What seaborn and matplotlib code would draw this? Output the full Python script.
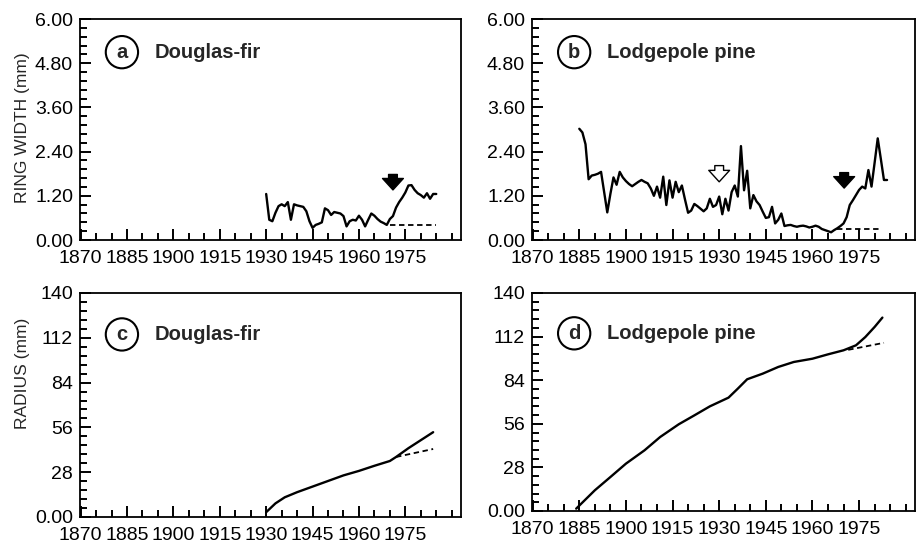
import matplotlib
matplotlib.use("Agg")
import matplotlib.pyplot as plt
from matplotlib.ticker import MultipleLocator, FixedLocator, FixedFormatter
import seaborn as sns

# ---- data ----
# (a) Douglas-fir ring width (mm), 1930-1985
df_years = list(range(1930, 1986))
df_width = [1.25, 0.55, 0.51, 0.74, 0.92, 0.97, 0.92, 1.03, 0.55, 0.97,
            0.94, 0.92, 0.90, 0.78, 0.51, 0.33, 0.41, 0.44, 0.48, 0.86,
            0.81, 0.68, 0.76, 0.74, 0.72, 0.65, 0.37, 0.51, 0.55, 0.53,
            0.66, 0.55, 0.37, 0.55, 0.72, 0.66, 0.57, 0.50, 0.46, 0.41,
            0.57, 0.65, 0.88, 1.03, 1.15, 1.29, 1.48, 1.49, 1.36, 1.27,
            1.22, 1.15, 1.27, 1.12, 1.25, 1.25]
df_base_years = [1970, 1985]
df_base_width = [0.40, 0.40]

# (b) Lodgepole pine ring width (mm), 1885-1984
lp_years = list(range(1885, 1985))
lp_width = [3.02, 2.92, 2.60, 1.65, 1.75, 1.77, 1.80, 1.85, 1.30, 0.75,
            1.25, 1.70, 1.50, 1.85, 1.70, 1.60, 1.52, 1.46, 1.52, 1.58,
            1.63, 1.58, 1.54, 1.40, 1.20, 1.45, 1.15, 1.72, 0.95, 1.62,
            1.15, 1.58, 1.30, 1.48, 1.10, 0.74, 0.80, 0.98, 0.92, 0.85,
            0.78, 0.86, 1.12, 0.90, 0.95, 1.18, 0.70, 1.12, 0.80, 1.30,
            1.48, 1.18, 2.55, 1.35, 1.88, 0.86, 1.22, 1.05, 0.95, 0.77,
            0.60, 0.62, 0.90, 0.45, 0.55, 0.72, 0.38, 0.40, 0.41, 0.38,
            0.36, 0.38, 0.39, 0.37, 0.34, 0.36, 0.39, 0.36, 0.30, 0.27,
            0.24, 0.21, 0.27, 0.32, 0.38, 0.45, 0.62, 0.95, 1.08, 1.22,
            1.36, 1.45, 1.40, 1.90, 1.45, 2.10, 2.76, 2.20, 1.63, 1.63]
lp_base_years = [1968, 1982.5]
lp_base_width = [0.31, 0.31]

# (c) Douglas-fir radius (mm)
dfr_years = [1930, 1933, 1936, 1940, 1945, 1950, 1955, 1960, 1965, 1970,
             1972, 1976, 1980, 1984]
dfr_radius = [3, 8.5, 12.3, 15.5, 19, 22.5, 26, 28.8, 32, 35,
              37.5, 43, 48, 53]
dfr_base_years = [1972, 1984]
dfr_base_radius = [37.5, 42.5]

# (d) Lodgepole pine radius (mm)
lpr_years = [1884, 1890, 1895, 1900, 1906, 1911, 1917, 1922, 1927, 1933,
             1936, 1939, 1944, 1949, 1954, 1960, 1965, 1970, 1974, 1977,
             1980, 1982.5]
lpr_radius = [1.5, 13.3, 21.8, 30.4, 39, 47.5, 55.7, 61.4, 67.2, 72.8,
              78.6, 84.6, 88.2, 92.5, 95.7, 97.8, 100.6, 103.2, 106.4, 111.7,
              118.2, 124.2]
lpr_base_years = [1971.5, 1983]
lpr_base_radius = [103.5, 108]

year_ticks = [1870, 1885, 1900, 1915, 1930, 1945, 1960, 1975]
width_ticks = [0, 1.2, 2.4, 3.6, 4.8, 6.0]
width_labels = ["0.00", "1.20", "2.40", "3.60", "4.80", "6.00"]
radius_ticks = [0, 28, 56, 84, 112, 140]
radius_labels = ["0.00", "28", "56", "84", "112", "140"]

sns.set_theme(style="ticks")
plt.rcParams["font.family"] = ["Liberation Sans", "DejaVu Sans"]
plt.rcParams["axes.linewidth"] = 1.3

fig = plt.figure(figsize=(9.24, 5.45), dpi=100)
ax_a = fig.add_axes([0.0866, 0.5596, 0.4123, 0.4055])
ax_b = fig.add_axes([0.5758, 0.5596, 0.4145, 0.4055])
ax_c = fig.add_axes([0.0866, 0.0514, 0.4123, 0.4110])
ax_d = fig.add_axes([0.5758, 0.0624, 0.4145, 0.4000])


def style_axis(ax, yticks, ylabels, ymax, yminor):
    ax.set_xlim(1869.8, 1993)
    ax.set_ylim(0, ymax)
    ax.xaxis.set_major_locator(FixedLocator(year_ticks))
    ax.xaxis.set_minor_locator(MultipleLocator(5))
    ax.yaxis.set_major_locator(FixedLocator(yticks))
    ax.yaxis.set_major_formatter(FixedFormatter(ylabels))
    ax.yaxis.set_minor_locator(MultipleLocator(yminor))
    ax.tick_params(which="both", direction="in", width=1.4, colors="black",
                   top=False, right=False)
    ax.tick_params(which="major", length=8, labelsize=14)
    ax.tick_params(which="minor", length=5)
    ax.tick_params(axis="x", pad=7)
    ax.tick_params(axis="y", pad=5)
    for s in ax.spines.values():
        s.set_visible(True)
        s.set_color("black")
    ax.set_xlabel("")
    ax.set_ylabel("")


def panel_title(ax, letter, name, y):
    ax.text(0.11, y, letter, transform=ax.transAxes, ha="center", va="center",
            fontsize=14.5, fontweight="bold",
            bbox=dict(boxstyle="circle,pad=0.33", fc="white", ec="black", lw=1.5))
    ax.text(0.197, y, name, transform=ax.transAxes, ha="left", va="center",
            fontsize=14.5, fontweight="bold")


def down_arrow(ax, x, y_tip, y_top, fill):
    ax.annotate("", xy=(x, y_tip), xytext=(x, y_top),
                arrowprops=dict(arrowstyle="simple,head_length=0.55,head_width=1.0,tail_width=0.42",
                                fc=fill, ec="black", lw=1.0, mutation_scale=15,
                                shrinkA=0, shrinkB=0))


# (a)
sns.lineplot(x=df_years, y=df_width, ax=ax_a, color="black", lw=1.7)
sns.lineplot(x=df_base_years, y=df_base_width, ax=ax_a, color="black", lw=1.3,
             linestyle=(0, (3, 2)))
style_axis(ax_a, width_ticks, width_labels, 6.0, 0.24)
ax_a.set_ylabel("RING WIDTH (mm)", fontsize=12.5)
ax_a.yaxis.set_label_coords(-0.13, 0.51)
panel_title(ax_a, "a", "Douglas-fir", 0.85)
down_arrow(ax_a, 1971, 1.36, 1.78, "black")

# (b)
sns.lineplot(x=lp_years, y=lp_width, ax=ax_b, color="black", lw=1.7)
sns.lineplot(x=lp_base_years, y=lp_base_width, ax=ax_b, color="black", lw=1.3,
             linestyle=(0, (3, 2)))
style_axis(ax_b, width_ticks, width_labels, 6.0, 0.24)
panel_title(ax_b, "b", "Lodgepole pine", 0.85)
down_arrow(ax_b, 1930, 1.58, 2.02, "white")
down_arrow(ax_b, 1970.2, 1.41, 1.83, "black")

# (c)
sns.lineplot(x=dfr_years, y=dfr_radius, ax=ax_c, color="black", lw=1.7)
sns.lineplot(x=dfr_base_years, y=dfr_base_radius, ax=ax_c, color="black", lw=1.3,
             linestyle=(0, (3, 2)))
style_axis(ax_c, radius_ticks, radius_labels, 140, 5.6)
ax_c.set_ylabel("RADIUS (mm)", fontsize=12.5)
ax_c.yaxis.set_label_coords(-0.13, 0.64)
panel_title(ax_c, "c", "Douglas-fir", 0.815)

# (d)
sns.lineplot(x=lpr_years, y=lpr_radius, ax=ax_d, color="black", lw=1.7)
sns.lineplot(x=lpr_base_years, y=lpr_base_radius, ax=ax_d, color="black", lw=1.3,
             linestyle=(0, (3, 2)))
style_axis(ax_d, radius_ticks, radius_labels, 140, 5.6)
panel_title(ax_d, "d", "Lodgepole pine", 0.815)

fig.savefig("out.png", dpi=100)
